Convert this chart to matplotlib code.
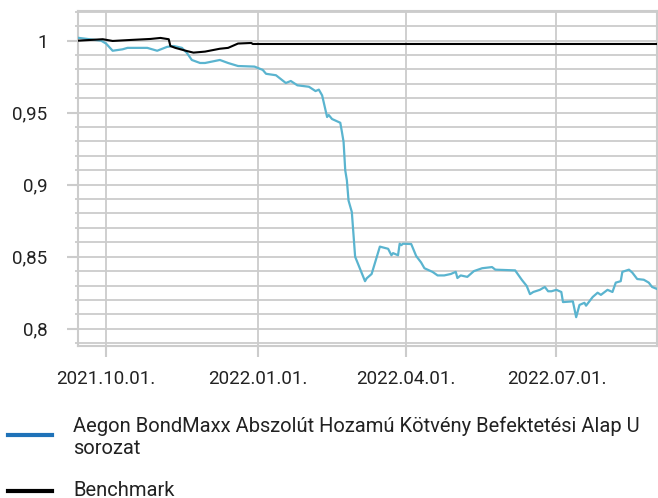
import pandas as pd
import numpy as np
import matplotlib.pyplot as plt
import matplotlib.dates as mdates
from matplotlib.lines import Line2D
from matplotlib.ticker import MultipleLocator, FuncFormatter

plt.rcParams['font.family'] = ['Roboto', 'DejaVu Sans']

# Alap (U sorozat) - becsült értékek a képről
alap_datum = ['2021-09-14', '2021-09-28', '2021-10-01', '2021-10-05', '2021-10-11',
              '2021-10-14', '2021-10-26', '2021-11-01', '2021-11-07', '2021-11-11',
              '2021-11-16', '2021-11-19', '2021-11-22', '2021-11-27', '2021-11-30',
              '2021-12-09', '2021-12-14', '2021-12-20', '2021-12-30', '2022-01-04',
              '2022-01-06', '2022-01-12', '2022-01-18', '2022-01-21', '2022-01-25',
              '2022-02-01', '2022-02-05', '2022-02-07', '2022-02-09', '2022-02-12',
              '2022-02-13', '2022-02-15', '2022-02-20', '2022-02-21', '2022-02-22',
              '2022-02-23', '2022-02-24', '2022-02-25', '2022-02-27', '2022-03-01',
              '2022-03-07', '2022-03-08', '2022-03-11', '2022-03-16', '2022-03-21',
              '2022-03-23', '2022-03-24', '2022-03-27', '2022-03-28', '2022-03-29',
              '2022-03-30', '2022-04-04', '2022-04-07', '2022-04-10', '2022-04-12',
              '2022-04-17', '2022-04-20', '2022-04-24', '2022-04-28', '2022-05-01',
              '2022-05-02', '2022-05-04', '2022-05-08', '2022-05-12', '2022-05-17',
              '2022-05-23', '2022-05-25', '2022-06-06', '2022-06-10', '2022-06-13',
              '2022-06-15', '2022-06-17', '2022-06-21', '2022-06-24', '2022-06-26',
              '2022-06-28', '2022-07-01', '2022-07-04', '2022-07-05', '2022-07-11',
              '2022-07-13', '2022-07-15', '2022-07-18', '2022-07-19', '2022-07-23',
              '2022-07-26', '2022-07-28', '2022-08-01', '2022-08-04', '2022-08-06',
              '2022-08-09', '2022-08-10', '2022-08-14', '2022-08-16', '2022-08-19',
              '2022-08-23', '2022-08-26', '2022-08-28', '2022-08-31']
alap_ertek = [1.002, 1.000, 0.998, 0.993, 0.994,
              0.995, 0.995, 0.993, 0.9957, 0.9963,
              0.995, 0.9915, 0.9866, 0.9845, 0.9845,
              0.9866, 0.9845, 0.9824, 0.982, 0.9797,
              0.977, 0.976, 0.9706, 0.972, 0.969,
              0.968, 0.965, 0.966, 0.962, 0.947,
              0.9484, 0.9456, 0.943, 0.9366, 0.9297,
              0.910, 0.903, 0.889, 0.881, 0.850,
              0.833, 0.835, 0.838, 0.857, 0.8555,
              0.851, 0.8525, 0.851, 0.859, 0.858,
              0.859, 0.8588, 0.8505, 0.846, 0.842,
              0.8394, 0.837, 0.837, 0.838, 0.8395,
              0.8352, 0.837, 0.836, 0.840, 0.842,
              0.8428, 0.841, 0.8405, 0.834, 0.8297,
              0.824, 0.8255, 0.827, 0.829, 0.826,
              0.826, 0.827, 0.8255, 0.8185, 0.819,
              0.808, 0.8165, 0.818, 0.816, 0.822,
              0.825, 0.8235, 0.827, 0.8255, 0.832,
              0.833, 0.8395, 0.841, 0.839, 0.8345,
              0.834, 0.832, 0.829, 0.8276]

# Benchmark
bm_datum = ['2021-09-14', '2021-09-29', '2021-10-05', '2021-10-16', '2021-10-28',
            '2021-11-03', '2021-11-08', '2021-11-09', '2021-11-12', '2021-11-19',
            '2021-11-23', '2021-11-30', '2021-12-09', '2021-12-14', '2021-12-20',
            '2021-12-28', '2021-12-29', '2022-08-31']
bm_ertek = [1.000, 1.001, 0.9998, 1.0005, 1.0012,
            1.0019, 1.001, 0.9963, 0.995, 0.9928,
            0.9917, 0.9924, 0.9944, 0.995, 0.998,
            0.9984, 0.9977, 0.9977]

alap = pd.Series(alap_ertek, index=pd.to_datetime(alap_datum))
bm = pd.Series(bm_ertek, index=pd.to_datetime(bm_datum))

fig = plt.figure(figsize=(6.58, 4.98), dpi=100)
ax = fig.add_axes([78/658, 1 - 346/498, 579/658, 335/498])

ax.plot(alap.index, alap.values, color='#5ab4cf', lw=1.6, zorder=3)
ax.plot(bm.index, bm.values, color='black', lw=1.5, zorder=4)

ax.set_xlim(pd.Timestamp('2021-09-14'), pd.Timestamp('2022-08-31'))
ax.set_ylim(0.788, 1.0206)

ax.xaxis.set_major_locator(mdates.MonthLocator(bymonth=[1, 4, 7, 10]))
ax.xaxis.set_major_formatter(mdates.DateFormatter('%Y.%m.%d.'))
ax.yaxis.set_major_locator(MultipleLocator(0.05))
ax.yaxis.set_minor_locator(MultipleLocator(0.01))
ax.yaxis.set_major_formatter(FuncFormatter(lambda v, p: ('%g' % round(v, 2)).replace('.', ',')))

szurke = '#cccccc'
ax.grid(True, which='both', axis='y', color=szurke, lw=1.3)
ax.grid(True, which='major', axis='x', color=szurke, lw=1.3)
for s in ax.spines.values():
    s.set_color(szurke)
    s.set_linewidth(1.5)
ax.tick_params(axis='both', which='major', colors=szurke, labelcolor='#222222',
               labelsize=13.5, length=8, width=1.5)
ax.tick_params(axis='y', which='major', pad=14)
ax.tick_params(axis='x', which='major', pad=9)
ax.tick_params(axis='y', which='minor', colors=szurke, length=2, width=1.3)

# jelmagyarázat
fig.add_artist(Line2D([8/658, 52/658], [1 - 435/498] * 2, color='#1f72b8', lw=3))
fig.add_artist(Line2D([8/658, 52/658], [1 - 491/498] * 2, color='black', lw=3))
fig.text(73/658, 1 - 437/498,
         'Aegon BondMaxx Abszolút Hozamú Kötvény Befektetési Alap U\nsorozat',
         fontsize=14.5, color='#222222', va='center', linespacing=1.2)
fig.text(73/658, 1 - 490/498, 'Benchmark', fontsize=14.5, color='#222222', va='center')

fig.savefig('out.png', dpi=100)
